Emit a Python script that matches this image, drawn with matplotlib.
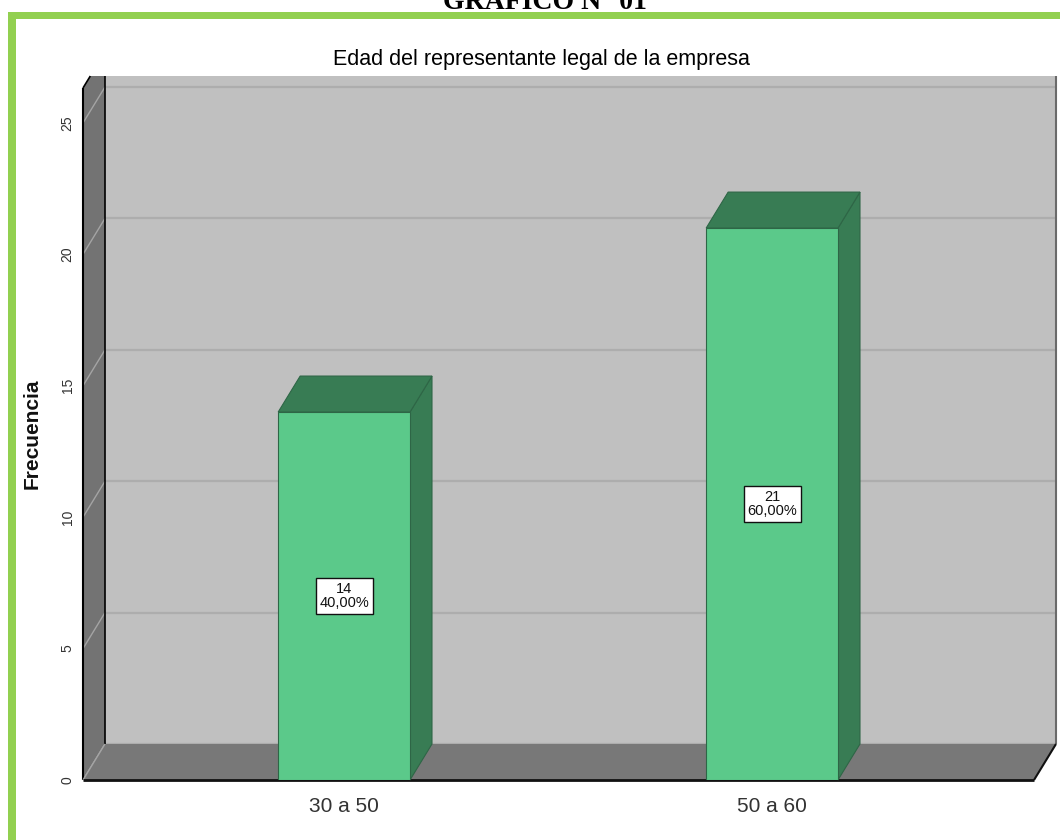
import matplotlib.pyplot as plt
from matplotlib.patches import Polygon, Rectangle

# Datos del gráfico
categorias = ["30 a 50", "50 a 60"]
frecuencias = [14, 21]
porcentajes = ["40,00%", "60,00%"]
yticks = [0, 5, 10, 15, 20, 25]

titulo = "Edad del representante legal de la empresa"
encabezado = "GRÁFICO N° 01"

NARROW = ["Liberation Sans Narrow", "Liberation Sans", "DejaVu Sans"]

# Colores
VERDE_MARCO = "#92d050"
PARED_FONDO = "#c0c0c0"
PARED_LADO = "#737373"
PISO = "#787878"
BARRA_FRENTE = "#5bc98a"
BARRA_LADO = "#387c54"
BARRA_BORDE = "#2e6646"

W, H = 1060, 840
fig = plt.figure(figsize=(W / 100, H / 100), dpi=100)
ax = fig.add_axes([83 / W, 60 / H, 951 / W, 692 / H])
ax.set_xlim(-0.61, 1.612)
Y_TOP = 26.33
ax.set_ylim(0, Y_TOP)
ax.patch.set_visible(False)
for s in ax.spines.values():
    s.set_visible(False)

# profundidad 3D (en pixeles) pasada a unidades de datos
DX, DY = 22, 36
inv = ax.transData.inverted()
x0, y0 = inv.transform((0, 0))
x1, y1 = inv.transform((DX, DY))
ddx, ddy = x1 - x0, y1 - y0
xmin, xmax = ax.get_xlim()
WALL_TOP = Y_TOP + ddy / 3


def poly(pts, color, z, ec="none", lw=0):
    ax.add_patch(Polygon(pts, closed=True, facecolor=color, edgecolor=ec,
                         linewidth=lw, zorder=z, clip_on=False))


def linea(p, q, color, lw, z):
    ax.plot([p[0], q[0]], [p[1], q[1]], color=color, lw=lw, zorder=z,
            clip_on=False, solid_capstyle="butt")


# pared del fondo
poly([(xmin + ddx, ddy), (xmax + ddx, ddy), (xmax + ddx, WALL_TOP),
      (xmin + ddx, WALL_TOP)], PARED_FONDO, 1)
# lineas de cuadricula
for v in yticks:
    linea((xmin + ddx, v + ddy), (xmax + ddx, v + ddy), "#adadad", 1.6, 1.5)
linea((xmax + ddx, ddy), (xmax + ddx, WALL_TOP), "#6a6a6a", 1.5, 1.6)

# pared izquierda
poly([(xmin, 0), (xmin, Y_TOP), (xmin + ddx / 3, WALL_TOP),
      (xmin + ddx, WALL_TOP), (xmin + ddx, ddy)], PARED_LADO, 2)
for v in yticks:
    linea((xmin, v), (xmin + ddx, v + ddy), "#a4a4a4", 1.0, 2.2)
linea((xmin, 0), (xmin, Y_TOP), "black", 1.5, 2.5)
linea((xmin, Y_TOP), (xmin + ddx / 3, WALL_TOP), "black", 1.2, 2.5)
linea((xmin + ddx, ddy), (xmin + ddx, WALL_TOP), "black", 1.2, 2.5)

# piso
poly([(xmin, 0), (xmax, 0), (xmax + ddx, ddy), (xmin + ddx, ddy)], PISO, 3)
linea((xmin, 0), (xmin + ddx, ddy), "#a4a4a4", 1.0, 3.2)
linea((xmin, 0), (xmax, 0), "#111111", 2.0, 3.5)
linea((xmax, 0), (xmax + ddx, ddy), "#111111", 1.5, 3.5)

# barras 3D
x = list(range(len(categorias)))
ancho = 0.308
ax.bar(x, frecuencias, width=ancho, color=BARRA_FRENTE, edgecolor=BARRA_BORDE,
       linewidth=0.8, zorder=6)
for xi, v in zip(x, frecuencias):
    xr = xi + ancho / 2
    xl = xi - ancho / 2
    poly([(xr, 0), (xr, v), (xr + ddx, v + ddy), (xr + ddx, ddy)],
         BARRA_LADO, 5, ec=BARRA_BORDE, lw=0.8)
    poly([(xl, v), (xr, v), (xr + ddx, v + ddy), (xl + ddx, v + ddy)],
         BARRA_LADO, 5, ec=BARRA_BORDE, lw=0.8)

# etiquetas de valor
for xi, v, p in zip(x, frecuencias, porcentajes):
    ax.text(xi, v / 2, f"{v}\n{p}", ha="center", va="center", fontsize=10.5,
            family=NARROW, linespacing=1.05, color="#111111", zorder=8,
            bbox=dict(boxstyle="square,pad=0.25", fc="white", ec="#111111", lw=1))

# ejes
ax.set_xticks(x, categorias)
ax.set_yticks(yticks)
ax.tick_params(axis="x", length=0, pad=12, labelsize=15, labelcolor="#333333")
ax.tick_params(axis="y", length=0, pad=6, labelsize=10, labelcolor="#333333",
               labelrotation=90)
for lab in ax.get_xticklabels():
    lab.set_family(NARROW)
for lab in ax.get_yticklabels():
    lab.set_family(["Liberation Sans", "DejaVu Sans"])
    lab.set_va("center")

fig.text(32 / W, 1 - 434 / H, "Frecuencia", rotation=90, ha="center",
         va="center", fontsize=15, weight="bold", family="Liberation Sans",
         color="#111111")
fig.text(541 / W, 1 - 65 / H, titulo, ha="center", va="baseline", fontsize=15.5,
         family=NARROW, color="black")

# marco verde y encabezado cortado
fig.add_artist(Rectangle((8 / W, 0), 8 / W, 1 - 12 / H, transform=fig.transFigure,
                         facecolor=VERDE_MARCO, edgecolor="none"))
fig.add_artist(Rectangle((8 / W, 1 - 19 / H), 1, 7 / H, transform=fig.transFigure,
                         facecolor=VERDE_MARCO, edgecolor="none"))
fig.text(545 / W, 1 - 9 / H, encabezado, ha="center", va="baseline", fontsize=20,
         weight="bold", family="Liberation Serif", color="black")

fig.savefig("out.png", dpi=100)
